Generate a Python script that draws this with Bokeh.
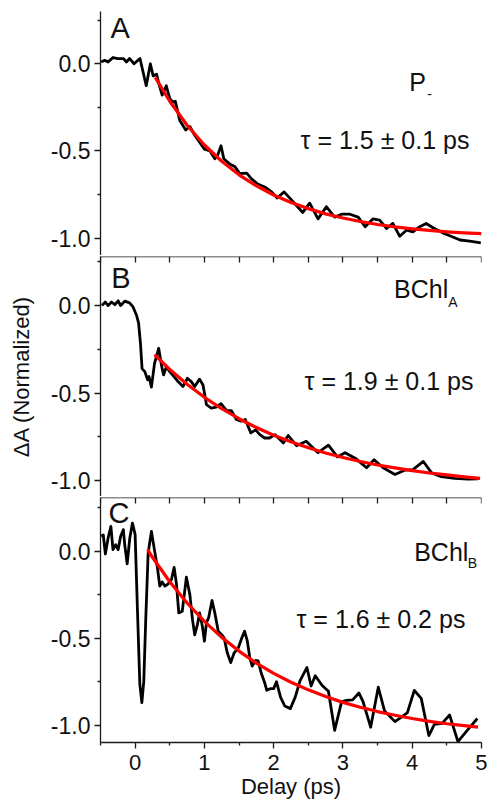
from bokeh.plotting import figure
from bokeh.models import FixedTicker, LinearAxis, Range1d
from bokeh.layouts import column
from bokeh.embed import file_html
from bokeh.resources import INLINE
from bokeh.core.properties import value

FONT = "Liberation Sans"

# ---------------- data ----------------
x_major = [0, 1, 2, 3, 4, 5]
x_minor = [-0.5, 0.5, 1.5, 2.5, 3.5, 4.5]
x_tick_labels = {0: "0", 1: "1", 2: "2", 3: "3", 4: "4", 5: "5"}
y_major = [-1.0, -0.5, 0.0]
y_minor = [-1.25, -0.75, -0.25, 0.25]
y_tick_labels = {-1.0: "-1.0", -0.5: "-0.5", 0.0: "0.0"}

panel_letters = ["A", "B", "C"]
species = ["P", "BChl", "BChl"]
species_sub = ["-", "A", "B"]
tau_labels = ["\u03c4 = 1.5 \u00b1 0.1 ps", "\u03c4 = 1.9 \u00b1 0.1 ps", "\u03c4 = 1.6 \u00b1 0.2 ps"]

a_x = [-0.49, -0.44, -0.39, -0.32, -0.25, -0.17, -0.125, -0.08, -0.015, 0.07, 0.16, 0.22, 0.26, 0.31,
       0.34, 0.39, 0.45, 0.50, 0.55, 0.58, 0.645, 0.73, 0.79, 0.86, 0.93, 1.00, 1.08, 1.15, 1.19, 1.24,
       1.28, 1.37, 1.44, 1.51, 1.61, 1.68, 1.77, 1.87, 1.97, 2.05, 2.15, 2.22, 2.30, 2.42, 2.52, 2.64,
       2.76, 2.88, 2.98, 3.10, 3.22, 3.32, 3.43, 3.53, 3.63, 3.72, 3.82, 3.92, 4.01, 4.11, 4.20, 4.32,
       4.44, 4.56, 4.69, 4.83, 4.99]
a_y = [0.01, 0.02, 0.01, 0.036, 0.03, 0.03, 0.01, 0.03, 0.0, 0.03, -0.126, 0.0, -0.07, -0.06,
       -0.11, -0.18, -0.126, -0.20, -0.22, -0.215, -0.326, -0.38, -0.36, -0.41, -0.45, -0.49, -0.50, -0.545, -0.526, -0.47,
       -0.545, -0.577, -0.59, -0.63, -0.627, -0.66, -0.69, -0.707, -0.735, -0.77, -0.735, -0.765, -0.80, -0.853, -0.80, -0.89,
       -0.82, -0.88, -0.863, -0.863, -0.88, -0.935, -0.89, -0.897, -0.945, -0.916, -0.99, -0.954, -0.964, -0.935, -0.916, -0.945,
       -0.97, -0.99, -1.011, -1.017, -1.027]

a_fit_x = [0.29, 0.5, 0.75, 1.0, 1.25, 1.5, 1.75, 2.0, 2.25, 2.5, 2.75, 3.0, 3.25, 3.5, 3.75, 4.0, 4.25, 4.5, 4.75, 5.0]
a_fit_y = [-0.078, -0.215, -0.353, -0.466, -0.559, -0.637, -0.700, -0.753, -0.796, -0.831, -0.861, -0.885,
           -0.905, -0.922, -0.936, -0.947, -0.956, -0.964, -0.970, -0.975]

b_x = [-0.48, -0.43, -0.39, -0.34, -0.29, -0.245, -0.21, -0.15, -0.08, -0.03, 0.02, 0.05, 0.077, 0.10,
       0.14, 0.18, 0.20, 0.235, 0.28, 0.34, 0.38, 0.41, 0.45, 0.50, 0.56, 0.62, 0.69, 0.755, 0.81, 0.86,
       0.93, 0.98, 1.03, 1.10, 1.17, 1.24, 1.32, 1.39, 1.46, 1.53, 1.59, 1.67, 1.74, 1.80, 1.87, 1.94,
       2.02, 2.09, 2.14, 2.21, 2.33, 2.47, 2.64, 2.79, 2.92, 3.03, 3.19, 3.34, 3.45, 3.58, 3.75, 3.89,
       4.01, 4.16, 4.28, 4.42, 4.61, 4.81, 4.95]
b_y = [0.0, 0.02, 0.0, 0.02, 0.005, 0.027, 0.0, 0.025, 0.015, -0.008, -0.055, -0.10, -0.216, -0.36,
       -0.377, -0.424, -0.405, -0.466, -0.33, -0.244, -0.34, -0.396, -0.35, -0.377, -0.405, -0.434, -0.462, -0.415, -0.434, -0.462,
       -0.42, -0.453, -0.566, -0.585, -0.58, -0.56, -0.60, -0.60, -0.65, -0.66, -0.65, -0.727, -0.71, -0.737, -0.756, -0.756,
       -0.737, -0.765, -0.784, -0.742, -0.80, -0.775, -0.84, -0.797, -0.864, -0.84, -0.875, -0.926, -0.88, -0.926, -0.964, -0.94,
       -0.936, -0.89, -0.955, -0.977, -0.987, -0.99, -0.989]

b_fit_x = [0.28, 0.5, 0.75, 1.0, 1.25, 1.5, 1.75, 2.0, 2.25, 2.5, 2.75, 3.0, 3.25, 3.5, 3.75, 4.0, 4.25, 4.5, 4.75, 4.98]
b_fit_y = [-0.28, -0.365, -0.449, -0.524, -0.589, -0.646, -0.696, -0.740, -0.778, -0.812, -0.842, -0.867,
           -0.890, -0.910, -0.927, -0.942, -0.956, -0.967, -0.978, -0.987]

c_x = [-0.49, -0.46, -0.43, -0.39, -0.35, -0.32, -0.28, -0.245, -0.21, -0.17, -0.15, -0.115, -0.077, -0.039,
       0.0, 0.034, 0.068, 0.097, 0.125, 0.154, 0.188, 0.235, 0.274, 0.322, 0.356, 0.39, 0.43, 0.476, 0.524,
       0.563, 0.597, 0.63, 0.68, 0.74, 0.79, 0.827, 0.86, 0.90, 0.93, 0.97, 1.0, 1.03, 1.06, 1.11, 1.15,
       1.20, 1.245, 1.285, 1.33, 1.38, 1.43, 1.49, 1.54, 1.58, 1.62, 1.655, 1.69, 1.74, 1.775, 1.82, 1.87,
       1.90, 1.95, 2.0, 2.04, 2.10, 2.16, 2.24, 2.31, 2.38, 2.48, 2.54, 2.60, 2.70, 2.79, 2.88, 2.98,
       3.05, 3.14, 3.23, 3.29, 3.40, 3.51, 3.60, 3.75, 3.85, 3.93, 4.03, 4.13, 4.24, 4.32, 4.43, 4.54,
       4.66, 4.80, 4.94]
c_y = [0.086, 0.095, -0.015, 0.077, 0.144, 0.01, 0.038, 0.01, 0.086, 0.125, 0.038, -0.072, 0.077, 0.163,
       0.096, -0.345, -0.766, -0.871, -0.747, -0.383, -0.01, 0.115, 0.02, -0.095, -0.20, -0.176, -0.20, -0.187, -0.163,
       -0.092, -0.19, -0.354, -0.345, -0.149, -0.249, -0.39, -0.48, -0.42, -0.354, -0.43, -0.517, -0.41, -0.383, -0.283, -0.354,
       -0.46, -0.478, -0.498, -0.584, -0.64, -0.584, -0.555, -0.498, -0.46, -0.517, -0.613, -0.66, -0.628, -0.63, -0.70, -0.756,
       -0.80, -0.79, -0.79, -0.75, -0.84, -0.89, -0.905, -0.84, -0.745, -0.668, -0.775, -0.716, -0.772, -0.805, -1.03, -0.866,
       -0.858, -0.855, -0.815, -0.865, -1.012, -0.782, -0.918, -0.98, -0.952, -0.928, -0.80, -0.846, -1.06, -0.996,
       -0.99, -0.942, -1.095, -1.027, -0.962]

c_fit_x = [0.18, 0.25, 0.5, 0.75, 1.0, 1.25, 1.5, 1.75, 2.0, 2.25, 2.5, 2.75, 3.0, 3.25, 3.5, 3.75, 4.0, 4.25, 4.5, 4.75, 4.95]
c_fit_y = [0.01, -0.034, -0.175, -0.297, -0.403, -0.495, -0.574, -0.643, -0.702, -0.753, -0.797, -0.835, -0.869,
           -0.897, -0.922, -0.943, -0.962, -0.978, -0.992, -1.003, -1.012]

# ---------------- styling helpers ----------------
AXIS_COLOR = "#1a1a1a"
TEXT_COLOR = "#111111"


def style_ticks(ax):
    ax.axis_line_color = AXIS_COLOR
    ax.axis_line_width = 1.3
    ax.major_tick_line_color = AXIS_COLOR
    ax.minor_tick_line_color = AXIS_COLOR
    ax.major_tick_line_width = 1.3
    ax.minor_tick_line_width = 1.3
    ax.major_tick_out = 6
    ax.major_tick_in = 0
    ax.minor_tick_out = 3
    ax.minor_tick_in = 0


def style_left_axis(ax):
    ax.ticker = FixedTicker(ticks=y_major, minor_ticks=y_minor)
    ax.major_label_overrides = y_tick_labels
    style_ticks(ax)
    ax.major_label_text_font = FONT
    ax.major_label_text_font_size = "23px"
    ax.major_label_text_color = TEXT_COLOR
    ax.major_label_standoff = 4


def add_top_axis(p, y_top):
    # boundary line shared with the panel above, ticks pointing down into this panel
    top = LinearAxis(ticker=FixedTicker(ticks=[], minor_ticks=x_major + x_minor),
                     fixed_location=y_top)
    top.axis_line_color = AXIS_COLOR
    top.axis_line_width = 1.3
    top.minor_tick_line_color = AXIS_COLOR
    top.minor_tick_line_width = 1.3
    top.minor_tick_in = 6
    top.minor_tick_out = 0
    top.major_tick_in = 0
    top.major_tick_out = 0
    top.major_label_standoff = 0
    top.major_label_text_font_size = "1px"
    p.add_layout(top, "above")


def make_panel(y_start, y_end, frame_h, top_border, bottom_axis):
    p = figure(frame_width=381, frame_height=frame_h, title=None,
               x_range=Range1d(-0.5, 5), y_range=Range1d(y_start, y_end),
               output_backend="svg", toolbar_location=None,
               x_axis_location="below" if bottom_axis else None,
               min_border_left=100, min_border_right=6,
               min_border_top=top_border, min_border_bottom=0)
    p.outline_line_color = None
    p.grid.visible = False
    p.background_fill_color = "white"
    p.border_fill_color = "white"
    style_left_axis(p.left[0])
    return p


def annotate(p, x, y, txt, size):
    p.text(x=[x], y=[y], text=[txt], text_font=value(FONT), text_font_size=size,
           text_align="left", text_baseline="alphabetic", text_color=TEXT_COLOR)


BLACK_W = 2.8
RED_W = 3.2

# ---------------- panel A ----------------
pA = make_panel(-1.1, 0.3, 244, 11, False)
pA.line(a_x, a_y, line_width=BLACK_W, color="black", line_join="round")
pA.line(a_fit_x, a_fit_y, line_width=RED_W, color="red", line_join="round")
annotate(pA, -0.355, 0.203, panel_letters[0], "29px")
annotate(pA, 3.956, -0.102, species[0], "25px")
annotate(pA, 4.217, -0.171, species_sub[0], "14px")
annotate(pA, 2.388, -0.435, tau_labels[0], "25px")

# ---------------- panel B ----------------
pB = make_panel(-1.09, 0.28, 240, 1, False)
add_top_axis(pB, 0.28)
yb = pB.left[0]
yb.axis_label = "\u0394A (Normalized)"
yb.axis_label_text_font = FONT
yb.axis_label_text_font_size = "22px"
yb.axis_label_text_font_style = "normal"
yb.axis_label_text_color = TEXT_COLOR
yb.axis_label_standoff = 14
pB.line(b_x, b_y, line_width=BLACK_W, color="black", line_join="round")
pB.line(b_fit_x, b_fit_y, line_width=RED_W, color="red", line_join="round")
annotate(pB, -0.345, 0.156, panel_letters[1], "29px")
annotate(pB, 3.738, 0.093, species[1], "25px")
annotate(pB, 4.52, 0.019, species_sub[1], "14px")
annotate(pB, 2.446, -0.430, tau_labels[1], "25px")

# ---------------- panel C ----------------
pC = make_panel(-1.1, 0.31, 245, 1, True)
xa = pC.below[0]
xa.ticker = FixedTicker(ticks=x_major, minor_ticks=x_minor)
xa.major_label_overrides = x_tick_labels
style_ticks(xa)
xa.major_label_text_font = FONT
xa.major_label_text_font_size = "22px"
xa.major_label_text_color = TEXT_COLOR
xa.major_label_standoff = 6
xa.axis_label = "Delay (ps)"
xa.axis_label_text_font = FONT
xa.axis_label_text_font_size = "22px"
xa.axis_label_text_font_style = "normal"
xa.axis_label_text_color = TEXT_COLOR
xa.axis_label_standoff = 1
add_top_axis(pC, 0.31)
pC.line(c_x, c_y, line_width=BLACK_W, color="black", line_join="round")
pC.line(c_fit_x, c_fit_y, line_width=RED_W, color="red", line_join="round")
annotate(pC, -0.384, 0.220, panel_letters[2], "29px")
annotate(pC, 4.028, -0.001, species[2], "25px")
annotate(pC, 4.80, -0.066, species_sub[2], "14px")
annotate(pC, 2.33, -0.391, tau_labels[2], "25px")

layout = column(pA, pB, pC, spacing=0)
open("out.html", "w").write(file_html(layout, INLINE))
